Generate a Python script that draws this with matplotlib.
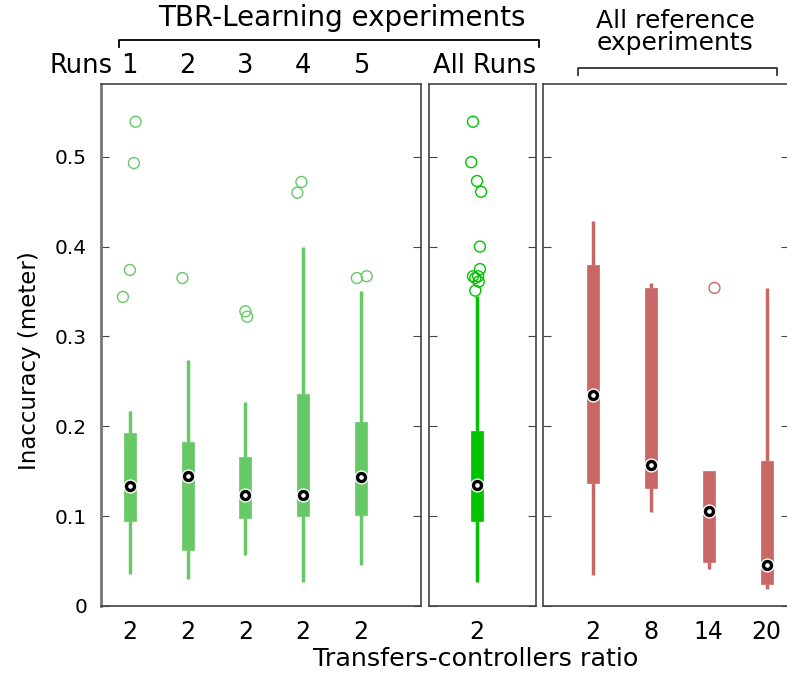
import matplotlib
matplotlib.use("Agg")
import matplotlib.pyplot as plt
from matplotlib.lines import Line2D

# summary stats (meters)
run_labels = ["1", "2", "3", "4", "5"]
run_ratio = ["2", "2", "2", "2", "2"]
run_lo = [0.036, 0.030, 0.057, 0.027, 0.046]
run_q1 = [0.095, 0.062, 0.098, 0.100, 0.101]
run_med = [0.134, 0.145, 0.123, 0.124, 0.143]
run_q3 = [0.193, 0.182, 0.166, 0.236, 0.205]
run_hi = [0.217, 0.274, 0.227, 0.400, 0.351]
run_fliers = [[0.344, 0.374, 0.493, 0.539], [0.365], [0.328, 0.322],
              [0.460, 0.472], [0.365, 0.367]]
run_jitter = [[-0.12, 0.0, 0.07, 0.10], [-0.09], [0.0, 0.03],
              [-0.10, -0.03], [-0.07, 0.10]]

all_ratio = ["2"]
all_lo = [0.027]
all_q1 = [0.095]
all_med = [0.135]
all_q3 = [0.195]
all_hi = [0.345]
all_fliers = [[0.539, 0.494, 0.473, 0.461, 0.400, 0.375, 0.367, 0.367,
               0.365, 0.361, 0.351]]
all_jitter = [[-0.07, -0.10, 0.0, 0.07, 0.05, 0.05, -0.07, 0.02,
               -0.03, 0.03, -0.03]]

ref_ratio = ["2", "8", "14", "20"]
ref_lo = [0.034, 0.105, 0.041, 0.019]
ref_q1 = [0.137, 0.131, 0.049, 0.024]
ref_med = [0.235, 0.157, 0.106, 0.046]
ref_q3 = [0.379, 0.354, 0.150, 0.161]
ref_hi = [0.429, 0.359, 0.150, 0.354]
ref_fliers = [[], [], [0.354], []]
ref_jitter = [[], [], [0.10], []]

y_ticks = [0, 0.1, 0.2, 0.3, 0.4, 0.5]
y_ticklabels = ["0", "0.1", "0.2", "0.3", "0.4", "0.5"]

light_green = "#66c966"
bright_green = "#00c400"
red = "#c96666"
frame = "#444444"


def draw_panel(ax, lo, q1, med, q3, hi, fliers, jitter, color):
    pos = list(range(1, len(med) + 1))
    stats = [dict(med=m, q1=a, q3=b, whislo=l, whishi=h, fliers=[])
             for m, a, b, l, h in zip(med, q1, q3, lo, hi)]
    ax.bxp(stats, positions=pos, widths=0.21, patch_artist=True,
           showcaps=False, showfliers=False, manage_ticks=False,
           boxprops=dict(facecolor=color, edgecolor=color, linewidth=0.5),
           whiskerprops=dict(color=color, linewidth=2.5, solid_capstyle="butt"),
           medianprops=dict(linewidth=0))
    for p, vals, jit in zip(pos, fliers, jitter):
        if vals:
            ax.scatter([p + j for j in jit], vals, s=62, facecolors="none",
                       edgecolors=color, linewidths=1.0, zorder=4)
    ax.scatter(pos, med, s=85, c="black", edgecolors="white",
               linewidths=1.0, zorder=5)
    ax.scatter(pos, med, s=11, c="white", linewidths=0, zorder=6)
    ax.set_ylim(0, 0.581)
    ax.set_yticks(y_ticks)
    ax.tick_params(axis="y", direction="in", left=True, right=True,
                   length=6, color=frame, labelleft=False)
    ax.tick_params(axis="x", length=0, labelsize=17, pad=10)
    for s in ax.spines.values():
        s.set_color(frame)
        s.set_linewidth(1.2)
    return pos


fig = plt.figure(figsize=(7.87, 6.73), dpi=100)
bottom, height = 0.0996, 0.7756
ax1 = fig.add_axes([0.1283, bottom, 0.4066, height])
ax2 = fig.add_axes([0.5451, bottom, 0.136, height])
ax3 = fig.add_axes([0.690, bottom, 0.312, height])

p1 = draw_panel(ax1, run_lo, run_q1, run_med, run_q3, run_hi,
                run_fliers, run_jitter, light_green)
ax1.set_xlim(0.5, 6.04)
ax1.set_xticks(p1)
ax1.set_xticklabels(run_ratio)
ax1.set_yticklabels(y_ticklabels)
ax1.tick_params(axis="y", labelleft=True, labelsize=14.5, pad=10)
ax1.spines["left"].set_color("#777777")
ax1.spines["left"].set_linewidth(2)
for p, lab in zip(p1, run_labels):
    ax1.text(p, 1.01, lab, transform=ax1.get_xaxis_transform(),
             ha="center", va="bottom", fontsize=18.5)
ax1.text(0.71, 1.01, "Runs", transform=ax1.get_xaxis_transform(),
         ha="right", va="bottom", fontsize=18.5)

p2 = draw_panel(ax2, all_lo, all_q1, all_med, all_q3, all_hi,
                all_fliers, all_jitter, bright_green)
ax2.set_xlim(0.17, 2.02)
ax2.set_xticks(p2)
ax2.set_xticklabels(all_ratio)
ax2.text(0.52, 1.01, "All Runs", transform=ax2.transAxes,
         ha="center", va="bottom", fontsize=18.5)

p3 = draw_panel(ax3, ref_lo, ref_q1, ref_med, ref_q3, ref_hi,
                ref_fliers, ref_jitter, red)
ax3.set_xlim(0.138, 4.38)
ax3.set_xticks(p3)
ax3.set_xticklabels(ref_ratio)
ax3.spines["right"].set_visible(False)

# group headers with brackets
fig.text(342 / 787, 1 - 18 / 673, "TBR-Learning experiments",
         ha="center", va="center", fontsize=20)
fig.add_artist(Line2D([119 / 787, 119 / 787, 539 / 787, 539 / 787],
                      [1 - 47 / 673, 1 - 40 / 673, 1 - 40 / 673, 1 - 47 / 673],
                      color="black", linewidth=1.3))
fig.text(675 / 787, 1 - 21 / 673, "All reference",
         ha="center", va="center", fontsize=18)
fig.text(675 / 787, 1 - 43 / 673, "experiments",
         ha="center", va="center", fontsize=18)
fig.add_artist(Line2D([578 / 787, 578 / 787, 777 / 787, 777 / 787],
                      [1 - 75 / 673, 1 - 68 / 673, 1 - 68 / 673, 1 - 75 / 673],
                      color="#333333", linewidth=1.3))

fig.text(476 / 787, 1 - 659 / 673, "Transfers-controllers ratio",
         ha="center", va="center", fontsize=18.3)
fig.text(30 / 787, 1 - 361 / 673, "Inaccuracy (meter)",
         ha="center", va="center", rotation=90, fontsize=16.5)

fig.savefig("out.png", dpi=100)
